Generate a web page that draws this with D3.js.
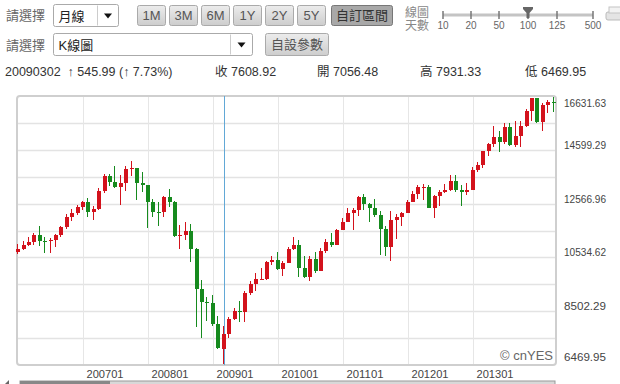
<!DOCTYPE html>
<html>
<head>
<meta charset="utf-8">
<script src="https://cdn.jsdelivr.net/npm/d3@7"></script>
<style>
  body { margin: 0; background: #fff; }
  svg { display: block; font-family: "Liberation Sans", Arial, "Noto Sans CJK TC", sans-serif; }
</style>
</head>
<body>
<svg id="chart" width="620" height="384"></svg>
<script>
// monthly candles, 200601 .. 201404 (100 bars, "線圖天數 100")
let months = [];
for (let yr = 2006; yr <= 2014; yr++) {
  for (let mo = 1; mo <= 12; mo++) {
    if (yr == 2014 && mo > 4) break;
    months.push(yr + (mo < 10 ? '0' : '') + mo);
  }
}

let openV = [
  10717.50, 10864.86, 10993.41, 11109.32, 11367.14, 11168.31, 11150.22, 11185.68, 11381.15, 11679.07, 12080.73, 12221.93,
  12463.15, 12621.69, 12268.63, 12354.35, 13062.91, 13627.64, 13408.62, 13211.99, 13357.74, 13895.63, 13930.01, 13371.72,
  13264.82, 12650.36, 12266.39, 12262.89, 12820.13, 12638.32, 11350.01, 11378.02, 11543.55, 10850.66, 9325.01, 8829.04,
  8776.39, 8000.86, 7056.48, 7608.92, 8168.12, 8500.33, 8447.00, 9171.61, 9496.28, 9712.28, 9712.73, 10344.84,
  10428.05, 10067.33, 10325.26, 10856.63, 11008.61, 10136.63, 9774.02, 10465.94, 10014.72, 10788.05, 11118.49, 11006.02,
  11577.51, 11891.93, 12226.34, 12319.73, 12810.54, 12569.79, 12414.34, 12143.24, 11613.53, 10913.38, 11955.01, 12045.68,
  12217.56, 12632.91, 12952.07, 13212.04, 13213.63, 12393.45, 12880.09, 13008.68, 13090.84, 13437.13, 13096.46, 13025.58,
  13104.14, 13860.58, 14054.49, 14578.54, 14839.80, 15115.57, 14909.60, 15499.54, 14810.31, 15129.67, 15545.75, 16086.41,
  16576.66, 15698.85, 16321.71, 16457.66
];
let highV = [
  11043.44, 11137.23, 11319.55, 11459.56, 11709.38, 11293.47, 11265.29, 11429.83, 11727.43, 12163.66, 12361.02, 12529.87,
  12683.93, 12795.93, 12495.48, 13162.82, 13692.81, 13710.21, 14021.95, 13657.86, 14000.41, 14198.10, 13880.00, 13773.38,
  13279.54, 12767.74, 12622.07, 12876.05, 13136.69, 12657.08, 11749.46, 11867.11, 11790.17, 10882.52, 9653.95, 9026.41,
  9088.06, 8315.07, 7931.33, 8254.22, 8588.02, 8877.93, 9238.79, 9630.20, 9917.99, 10119.47, 10406.96, 10580.33,
  10729.89, 10402.27, 10907.42, 11309.39, 11205.03, 10594.16, 10589.70, 10719.94, 10882.52, 11244.41, 11451.53, 11625.00,
  12020.52, 12391.29, 12419.71, 12876.00, 12928.33, 12580.81, 12753.89, 12284.66, 11716.84, 12284.30, 12187.44, 12258.79,
  12721.54, 13055.75, 13289.08, 13338.66, 13279.32, 12898.89, 13101.40, 13330.76, 13653.24, 13661.87, 13290.76, 13358.09,
  13969.99, 14149.25, 14585.10, 14887.51, 15542.40, 15340.09, 15634.32, 15658.43, 15709.58, 15721.00, 16174.51, 16588.25,
  16573.07, 16398.20, 16530.00, 16631.63
];
let lowV = [
  10661.15, 10794.07, 10958.59, 11005.54, 10966.13, 10699.25, 10683.32, 10927.88, 11289.93, 11624.79, 11926.17, 12135.33,
  12332.30, 12050.41, 11939.61, 12317.41, 12983.27, 13244.31, 13178.79, 12517.94, 13038.24, 13607.34, 12724.09, 13016.78,
  11634.82, 12069.50, 11731.60, 12070.48, 12442.32, 11287.56, 10827.71, 11176.24, 10365.45, 7882.51, 7449.38, 8118.50,
  7909.03, 7033.35, 6469.95, 7467.51, 8154.56, 8087.19, 8087.19, 9084.80, 9252.18, 9675.80, 9678.98, 10235.63,
  10043.75, 9835.09, 10302.48, 10797.40, 9774.48, 9757.55, 9614.32, 9936.62, 10012.69, 10712.53, 10929.73, 10985.24,
  11555.05, 11858.14, 11555.48, 12093.29, 12321.60, 11862.53, 12045.63, 10604.07, 10597.14, 10404.49, 11231.56, 11735.19,
  12217.56, 12622.61, 12756.07, 12710.63, 12391.43, 12035.09, 12492.25, 12979.22, 13036.70, 13016.07, 12471.49, 12883.89,
  13104.14, 13784.17, 13937.60, 14398.57, 14746.49, 14551.27, 14858.54, 14760.41, 14719.43, 14719.43, 15487.95, 15703.79,
  15660.00, 15340.69, 16015.32, 16060.00
];
let closeV = [
  10864.86, 10993.41, 11109.32, 11367.14, 11168.31, 11150.22, 11185.68, 11381.15, 11679.07, 12080.73, 12221.93, 12463.15,
  12621.69, 12268.63, 12354.35, 13062.91, 13627.64, 13408.62, 13211.99, 13357.74, 13895.63, 13930.01, 13371.72, 13264.82,
  12650.36, 12266.39, 12262.89, 12820.13, 12638.32, 11350.01, 11378.02, 11543.55, 10850.66, 9325.01, 8829.04, 8776.39,
  8000.86, 7062.93, 7608.92, 8168.12, 8500.33, 8447.00, 9171.61, 9496.28, 9712.28, 9712.73, 10344.84, 10428.05,
  10067.33, 10325.26, 10856.63, 11008.61, 10136.63, 9774.02, 10465.94, 10014.72, 10788.05, 11118.49, 11006.02, 11577.51,
  11891.93, 12226.34, 12319.73, 12810.54, 12569.79, 12414.34, 12143.24, 11613.53, 10913.38, 11955.01, 12045.68, 12217.56,
  12632.91, 12952.07, 13212.04, 13213.63, 12393.45, 12880.09, 13008.68, 13090.84, 13437.13, 13096.46, 13025.58, 13104.14,
  13860.58, 14054.49, 14578.54, 14839.80, 15115.57, 14909.60, 15499.54, 14810.31, 15129.67, 15545.75, 16086.41, 16576.66,
  15698.85, 16321.71, 16457.66, 16424.00
];

let yTicks = [16631.63, 14599.29, 12566.96, 10534.62, 8502.29, 6469.95];
let yearLabels = ['200701', '200801', '200901', '201001', '201101', '201201', '201301'];
let cursorMonth = '200903';

let rangeButtons = ['1M', '3M', '6M', '1Y', '2Y', '5Y'];
let dayOptions = ['10', '20', '50', '100', '125', '500'];
let dayPos = [443, 471, 499, 528, 557, 593];
let infoItems = [
  {label: '20090302  ↑ 545.99 (↑ 7.73%)', x: 5},
  {label: '收 7608.92', x: 215},
  {label: '開 7056.48', x: 317},
  {label: '高 7931.33', x: 420},
  {label: '低 6469.95', x: 525}
];

let UP = '#d3121c', DOWN = '#168a1e';
let plot = {left: 17, top: 96, right: 556, bottom: 365};

let svg = d3.select('#chart');

// ---------- header ----------
let head = svg.append('g').attr('fill', '#555');
head.append('text').attr('x', 6).attr('y', 20).attr('font-size', 13).attr('fill', '#666').text('請選擇');
head.append('text').attr('x', 6).attr('y', 50).attr('font-size', 13).attr('fill', '#666').text('請選擇');

function selectBox(x, y, w, h, label, sep) {
  head.append('rect').attr('x', x).attr('y', y).attr('width', w).attr('height', h)
    .attr('rx', 2).attr('fill', '#fff').attr('stroke', '#aaa');
  head.append('line').attr('x1', sep).attr('x2', sep).attr('y1', y + 1).attr('y2', y + h - 1)
    .attr('stroke', '#ccc');
  let ax = (sep + x + w) / 2, ay = y + h / 2;
  head.append('path').attr('d', `M${ax - 4},${ay - 2}L${ax + 4},${ay - 2}L${ax},${ay + 3}Z`).attr('fill', '#111');
  head.append('text').attr('x', x + 5).attr('y', y + h / 2 + 5).attr('font-size', 13)
    .attr('fill', '#222').text(label);
}
selectBox(53.5, 4.5, 65, 22, '月線', 97.5);
selectBox(53.5, 33.5, 199, 22, 'K線圖', 230.5);

let defs = svg.append('defs');
let grad = defs.append('linearGradient').attr('id', 'btn').attr('x1', 0).attr('x2', 0).attr('y1', 0).attr('y2', 1);
grad.append('stop').attr('offset', 0).attr('stop-color', '#ececec');
grad.append('stop').attr('offset', 1).attr('stop-color', '#cdcdcd');

function button(x, y, w, h, label, pressed) {
  head.append('rect').attr('x', x + 0.5).attr('y', y + 0.5).attr('width', w).attr('height', h)
    .attr('rx', 2).attr('fill', pressed ? '#a8a8a8' : 'url(#btn)')
    .attr('stroke', pressed ? '#777' : '#aaa');
  head.append('text').attr('x', x + w / 2 + 0.5).attr('y', y + h / 2 + 5).attr('text-anchor', 'middle')
    .attr('font-size', 13).attr('fill', pressed ? '#333' : '#555').text(label);
}
rangeButtons.forEach((b, i) => button(137 + i * 32, 5, 28, 20, b, false));
button(331, 5, 61, 20, '自訂區間', true);
button(265, 33, 63, 22, '自設參數', false);

// 線圖天數 slider
head.append('text').attr('x', 405).attr('y', 17).attr('font-size', 12).attr('fill', '#888').text('線圖');
head.append('text').attr('x', 405).attr('y', 30).attr('font-size', 12).attr('fill', '#888').text('天數');
head.append('line').attr('x1', dayPos[0]).attr('x2', dayPos[dayPos.length - 1]).attr('y1', 15).attr('y2', 15)
  .attr('stroke', '#c4c4c4').attr('stroke-width', 3);
dayOptions.forEach((d, i) => {
  let tx = dayPos[i];
  head.append('line').attr('x1', tx).attr('x2', tx).attr('y1', 11).attr('y2', 19)
    .attr('stroke', '#777').attr('stroke-width', 1.5);
  head.append('text').attr('x', tx).attr('y', 29).attr('text-anchor', 'middle')
    .attr('font-size', 10).attr('fill', '#666').text(d);
});
let hx = dayPos[dayOptions.indexOf('100')];
head.append('path')
  .attr('d', `M${hx - 5},7L${hx + 5},7L${hx + 5},9L${hx + 1.5},13L${hx + 1.5},18L${hx - 1.5},18L${hx - 1.5},13L${hx - 5},9Z`)
  .attr('fill', '#666');
// printer icon, cut by the window edge
head.append('rect').attr('x', 606).attr('y', 12).attr('width', 16).attr('height', 8).attr('rx', 2)
  .attr('fill', '#e4e4e4').attr('stroke', '#bbb');
head.append('rect').attr('x', 609).attr('y', 7).attr('width', 12).attr('height', 6)
  .attr('fill', '#f2f2f2').attr('stroke', '#c4c4c4');

infoItems.forEach(d => {
  head.append('text').attr('x', d.x).attr('y', 76).attr('font-size', 12.5).attr('fill', '#333')
    .attr('xml:space', 'preserve').text(d.label);
});

// ---------- chart ----------
let x = d3.scaleBand()
  .domain(months)
  .range([15.4, 556.4])
  .paddingInner(0.26)
  .paddingOuter(0.13);
let cx = m => x(m) + x.bandwidth() / 2;

let y = d3.scaleLinear()
  .domain([d3.min(lowV), d3.max(highV)])
  .range([364, 97]);

let chart = svg.append('g');

chart.append('rect')
  .attr('x', plot.left).attr('y', plot.top)
  .attr('width', plot.right - plot.left).attr('height', plot.bottom - plot.top)
  .attr('rx', 3).attr('fill', '#fff').attr('stroke', '#cfcfcf').attr('stroke-width', 2);

// horizontal grid: 10 equal bands
d3.range(1, 10).forEach(i => {
  let gy = Math.round(plot.top + i * (plot.bottom - plot.top) / 10) + 0.5;
  chart.append('line').attr('x1', plot.left + 1).attr('x2', plot.right - 1)
    .attr('y1', gy).attr('y2', gy).attr('stroke', '#e3e3e3').attr('stroke-width', 1.5);
});

// vertical grid at each January
yearLabels.forEach(m => {
  let gx = Math.round(cx(m)) + 0.5;
  chart.append('line').attr('x1', gx).attr('x2', gx)
    .attr('y1', plot.top + 1).attr('y2', plot.bottom - 1).attr('stroke', '#e6e6e6');
  chart.append('text').attr('x', gx + 3).attr('y', 378).attr('font-size', 11.5)
    .attr('fill', '#444').attr('textLength', 37).attr('lengthAdjust', 'spacingAndGlyphs').text(m);
});

// cursor line
let curX = Math.round(cx(cursorMonth)) + 0.5;
chart.append('line').attr('x1', curX).attr('x2', curX)
  .attr('y1', plot.top).attr('y2', plot.bottom).attr('stroke', '#62a8d6').attr('stroke-width', 1);

// candles
let bars = months.map((m, i) => ({m: m, o: openV[i], h: highV[i], l: lowV[i], c: closeV[i]}));
let bodyW = 4;
let candle = chart.append('g').attr('shape-rendering', 'crispEdges')
  .selectAll('g').data(bars).enter().append('g')
  .attr('fill', d => d.c >= d.o ? UP : DOWN)
  .attr('stroke', d => d.c >= d.o ? UP : DOWN);

candle.append('line')
  .attr('x1', d => Math.round(cx(d.m) - bodyW / 2) + 1.5)
  .attr('x2', d => Math.round(cx(d.m) - bodyW / 2) + 1.5)
  .attr('y1', d => y(d.h)).attr('y2', d => y(d.l));

candle.append('rect')
  .attr('x', d => Math.round(cx(d.m) - bodyW / 2))
  .attr('width', bodyW)
  .attr('y', d => y(Math.max(d.o, d.c)))
  .attr('height', d => Math.max(1, Math.abs(y(d.o) - y(d.c))))
  .attr('stroke', 'none');

// y labels, kept inside the plot height
yTicks.forEach(v => {
  let ty = Math.min(361, Math.max(107, y(v) - 1));
  chart.append('text').attr('x', 564).attr('y', ty).attr('font-size', 11.5).attr('fill', '#444')
    .attr('textLength', 42).attr('lengthAdjust', 'spacingAndGlyphs').text(v.toFixed(2));
});

chart.append('text').attr('x', 553).attr('y', 360).attr('text-anchor', 'end')
  .attr('font-size', 13).attr('fill', '#666').text('© cnYES');

// scrollbar edge at the very bottom
svg.append('rect').attr('x', 20).attr('y', 381).attr('width', 535).attr('height', 4)
  .attr('fill', '#d8d8d8').attr('stroke', '#999');
svg.append('rect').attr('x', 20).attr('y', 381).attr('width', 90).attr('height', 4).attr('fill', '#888');
svg.append('path').attr('d', 'M5,384L9,380L9,384Z').attr('fill', '#666');
</script>
</body>
</html>
